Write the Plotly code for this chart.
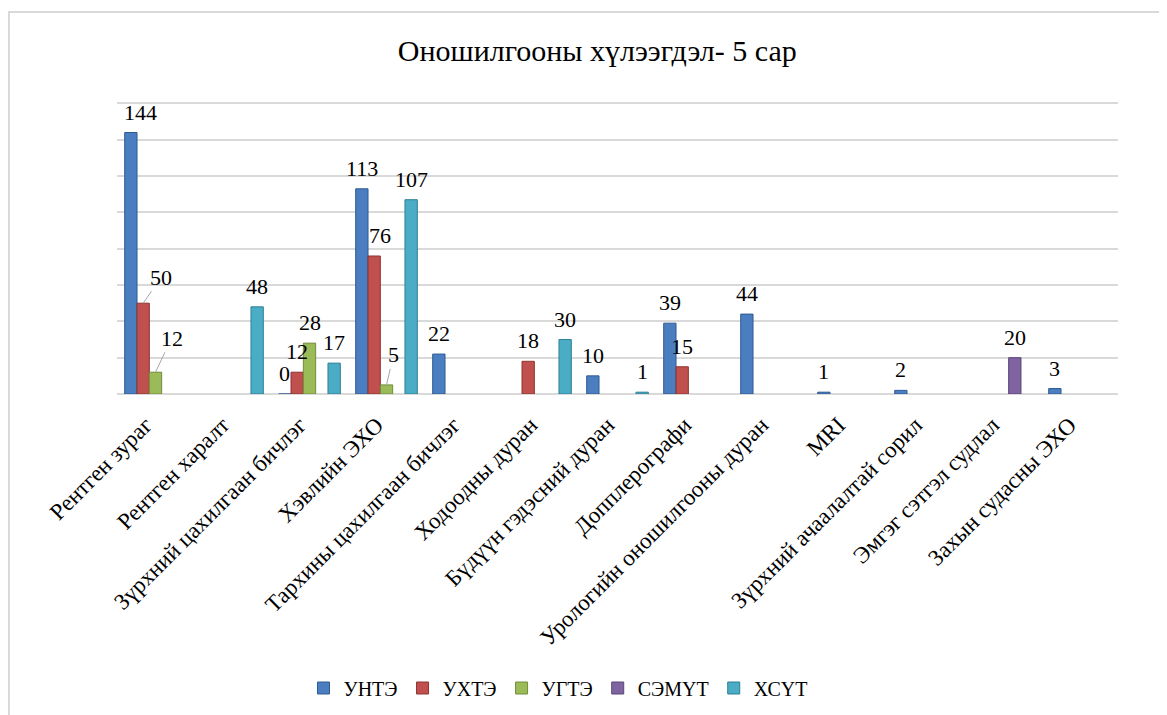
import plotly.graph_objects as go

categories = ["Рентген зураг", "Рентген харалт", "Зүрхний цахилгаан бичлэг", "Хэвлийн ЭХО",
              "Тархины цахилгаан бичлэг", "Ходоодны дуран", "Бүдүүн гэдэсний дуран",
              "Допплерографи", "Урологийн оношилгооны дуран", "MRI",
              "Зүрхний ачаалалтай сорил", "Эмгэг сэтгэл судлал", "Захын судасны ЭХО"]

series_names = ["УНТЭ", "УХТЭ", "УГТЭ", "СЭМҮТ", "ХСҮТ"]
unte = [144, None, 0, 113, 22, None, 10, 39, 44, 1, 2, None, 3]
ukhte = [50, None, 12, 76, None, 18, None, 15, None, None, None, None, None]
ugte = [12, None, 28, 5, None, None, None, None, None, None, None, None, None]
semut = [None, None, None, None, None, None, None, None, None, None, None, 20, None]
khsut = [None, 48, 17, 107, None, 30, 1, None, None, None, None, None, None]
grid_values = [0, 20, 40, 60, 80, 100, 120, 140, 160]

colors = ["#4A7EC1", "#C0504D", "#9BBB59", "#8064A2", "#4BACC6"]
edge_colors = ["#2F5A92", "#8E3330", "#718C3A", "#5B4479", "#2E7F96"]

series = [unte, ukhte, ugte, semut, khsut]

FONT = "Liberation Serif"
W, H = 1167, 715
OFF = 8  # page body margin of the viewer
L, R, T, B = 117 - OFF, 49 + OFF, 98 - OFF, 321 + OFF
PW, PH = W - L - R, H - T - B
BARGAP = 0.2
YMAX = 163

fig = go.Figure()
for name, vals, c, ec in zip(series_names, series, colors, edge_colors):
    fig.add_trace(go.Bar(
        x=categories, y=vals, name=name,
        marker=dict(color=c, line=dict(color=ec, width=1)),
        hoverinfo="x+y+name",
    ))

# data labels placed through the category axis scale
leader = {(1, 0): (18, -26), (2, 0): (16, -34), (2, 3): (7, -30)}
nudge = {(0, 0): 10, (1, 3): 6}
slot = (1 - BARGAP) / len(series)
annotations = []
for si, vals in enumerate(series):
    for ci, v in enumerate(vals):
        if v is None:
            continue
        xpos = ci + (si - (len(series) - 1) / 2) * slot
        if (si, ci) in leader:
            ax, ay = leader[(si, ci)]
            annotations.append(dict(
                x=xpos, y=v, xref="x", yref="y", text=str(v),
                showarrow=True, arrowhead=0, arrowwidth=1, arrowcolor="#A6A6A6",
                ax=ax, ay=ay, font=dict(family=FONT, size=22, color="black"),
            ))
        else:
            annotations.append(dict(
                x=xpos, y=v, xref="x", yref="y", text=str(v),
                showarrow=False, yanchor="bottom", yshift=6,
                xshift=nudge.get((si, ci), 0),
                font=dict(family=FONT, size=22, color="black"),
            ))

def px_to_paper_x(px):
    return (px - L) / PW

def px_to_paper_y(py):
    return (H - B - py) / PH

fig.update_layout(
    width=W, height=H,
    margin=dict(l=L, r=R, t=T, b=B, autoexpand=False),
    paper_bgcolor="white", plot_bgcolor="white",
    barmode="group", bargap=BARGAP, bargroupgap=0,
    title=dict(text="Оношилгооны хүлээгдэл- 5 сар", x=0.505, xanchor="center",
               y=1 - (50 - OFF) / H, yanchor="middle",
               font=dict(family=FONT, size=30, color="black")),
    xaxis=dict(tickangle=-45, tickfont=dict(family=FONT, size=23, color="black"),
               showline=False, showgrid=False, ticks="", automargin=False,
               ticklabelstandoff=12, ticklabelshift=-10),
    yaxis=dict(range=[0, YMAX], tickvals=grid_values,
               showticklabels=False, showgrid=True,
               gridcolor="#D9D9D9", gridwidth=2, zeroline=True, zerolinecolor="#D9D9D9",
               zerolinewidth=2, showline=False, automargin=False),
    legend=dict(orientation="h", x=px_to_paper_x(558 - OFF), xanchor="center",
                y=px_to_paper_y(688 - OFF), yanchor="middle",
                font=dict(family=FONT, size=20, color="black"),
                itemwidth=30, traceorder="normal"),
    annotations=annotations,
    shapes=[dict(type="rect", xref="paper", yref="paper",
                 x0=px_to_paper_x(8 - OFF + 1), x1=px_to_paper_x(1180),
                 y0=px_to_paper_y(730), y1=px_to_paper_y(12 - OFF),
                 line=dict(color="#D9D9D9", width=2), fillcolor="rgba(0,0,0,0)",
                 layer="below")],
)

fig.write_html("out.html")
